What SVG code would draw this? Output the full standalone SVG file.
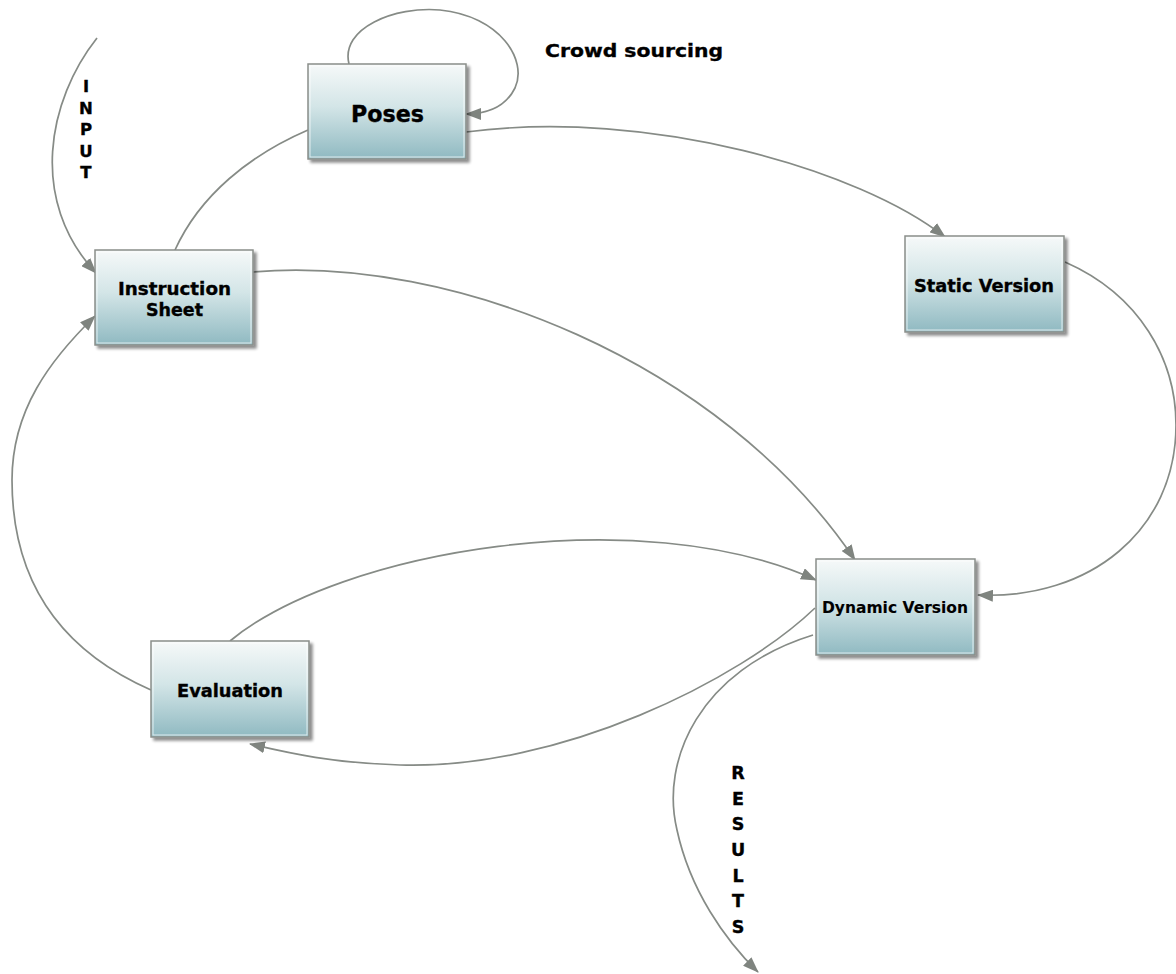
<svg xmlns="http://www.w3.org/2000/svg" width="1176" height="974" viewBox="0 0 1176 974">
<defs>
<linearGradient id="g" x1="0" y1="0" x2="0" y2="1">
<stop offset="0" stop-color="#f6f9f9"/>
<stop offset="0.45" stop-color="#d3e5e7"/>
<stop offset="1" stop-color="#8fb9c1"/>
</linearGradient>
<filter id="sh" x="-10%" y="-10%" width="130%" height="130%">
<feGaussianBlur in="SourceAlpha" stdDeviation="1.5"/>
<feOffset dx="3" dy="3" result="o"/>
<feComponentTransfer><feFuncA type="linear" slope="0.45"/></feComponentTransfer>
<feMerge><feMergeNode/><feMergeNode in="SourceGraphic"/></feMerge>
</filter>
<marker id="ah" markerUnits="userSpaceOnUse" markerWidth="16" markerHeight="12" refX="15" refY="6" orient="auto">
<path d="M0,0 L16,6 L0,12 z" fill="#7f847f"/>
</marker>
</defs>
<style>
.box{fill:url(#g);stroke:#8a8e8a;stroke-width:1.5;filter:url(#sh)}
.inner{fill:none;stroke:#ffffff;stroke-width:1;opacity:0.7}
.t{font-family:"DejaVu Sans","Verdana",sans-serif;font-weight:bold;fill:#000;stroke:#000;stroke-width:0.35;text-anchor:middle}
.c{fill:none;stroke:#868b86;stroke-width:1.7}
.a{marker-end:url(#ah)}
</style>
<rect width="1176" height="974" fill="#ffffff"/>
<g id="connectors">
<path class="c a" d="M349,64 C 340,28 395,6 440,10 C 500,16 528,60 515,88 C 505,108 485,114 466,114"/>
<path class="c a" d="M466,132 C 650,108 860,170 945,237"/>
<path class="c" d="M175,250 C 200,195 250,155 308,130"/>
<path class="c a" d="M97,38 C 48,100 28,200 96,273"/>
<path class="c a" d="M253,272 C 450,255 720,360 855,560"/>
<path class="c a" d="M230,641 C 340,550 640,500 816,580"/>
<path class="c a" d="M815,608 C 740,680 560,770 400,765 C 330,763 285,752 250,744"/>
<path class="c a" d="M813,635 C 700,670 660,760 677,830 C 690,890 725,940 758,972"/>
<path class="c a" d="M1065,262 C 1140,295 1176,360 1176,425 C 1176,530 1090,600 978,595"/>
<path class="c a" d="M151,690 C 60,650 12,580 12,480 C 12,410 50,360 95,316"/>
</g>
<g id="poses">
<rect class="box" x="308" y="64" width="158" height="95"/>
<rect class="inner" x="310" y="66" width="154" height="91"/>
<text class="t" x="387.5" y="122" font-size="23" textLength="73" lengthAdjust="spacingAndGlyphs">Poses</text>
</g>
<g id="instruction-sheet">
<rect class="box" x="95" y="250" width="158" height="95"/>
<rect class="inner" x="97" y="252" width="154" height="91"/>
<text class="t" x="174.5" y="295" font-size="17" textLength="113" lengthAdjust="spacingAndGlyphs">Instruction</text>
<text class="t" x="174.5" y="316" font-size="17" textLength="57" lengthAdjust="spacingAndGlyphs">Sheet</text>
</g>
<g id="static-version">
<rect class="box" x="905" y="236" width="159" height="96"/>
<rect class="inner" x="907" y="238" width="155" height="92"/>
<text class="t" x="984" y="292" font-size="17.5" textLength="140" lengthAdjust="spacingAndGlyphs">Static Version</text>
</g>
<g id="dynamic-version">
<rect class="box" x="816" y="559" width="159" height="96"/>
<rect class="inner" x="818" y="561" width="155" height="92"/>
<text class="t" x="895" y="613" font-size="15" style="stroke-width:0.1" textLength="146" lengthAdjust="spacingAndGlyphs">Dynamic Version</text>
</g>
<g id="evaluation">
<rect class="box" x="151" y="641" width="158" height="96"/>
<rect class="inner" x="153" y="643" width="154" height="92"/>
<text class="t" x="230" y="697" font-size="17.5" textLength="106" lengthAdjust="spacingAndGlyphs">Evaluation</text>
</g>
<g id="labels">
<text class="t" x="634" y="57" font-size="18" textLength="178" lengthAdjust="spacingAndGlyphs">Crowd sourcing</text>
<g class="t" font-size="16.5">
<text x="86" y="92">I</text>
<text x="86" y="113.5">N</text>
<text x="86" y="135">P</text>
<text x="86" y="156.5">U</text>
<text x="86" y="178">T</text>
</g>
<g class="t" font-size="17.5">
<text x="738" y="779">R</text>
<text x="738" y="804.5">E</text>
<text x="738" y="830">S</text>
<text x="738" y="856">U</text>
<text x="738" y="881.5">L</text>
<text x="738" y="907">T</text>
<text x="738" y="933">S</text>
</g>
</g>
</svg>
